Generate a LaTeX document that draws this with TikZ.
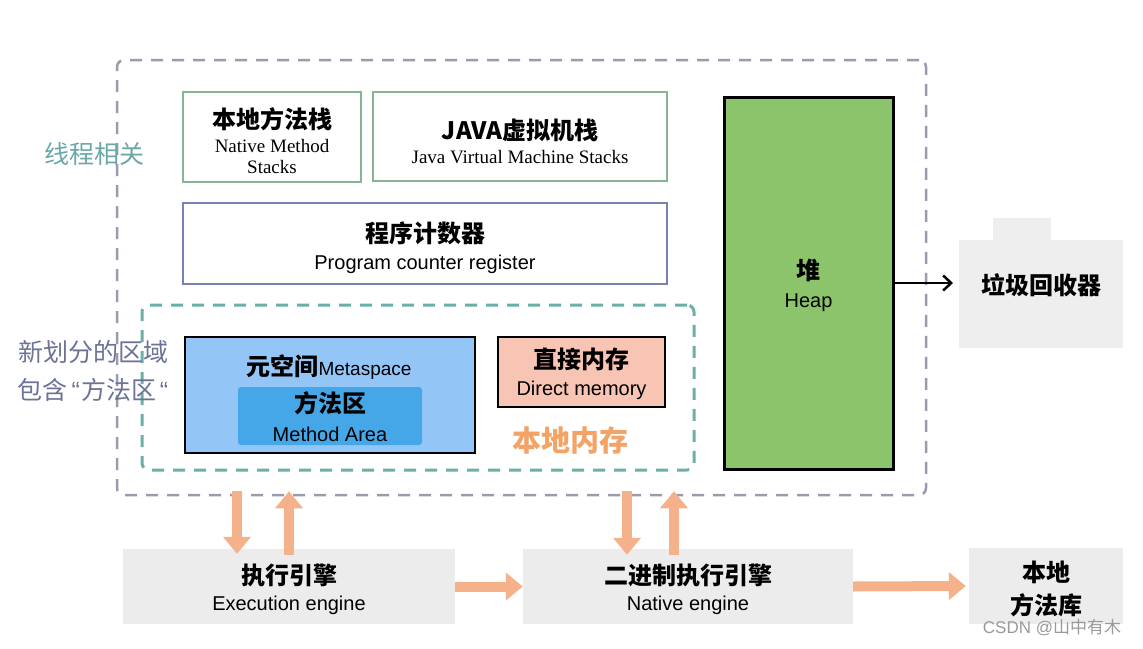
\documentclass[tikz,border=0pt]{standalone}
\usepackage{fontspec}
\setmainfont{Liberation Serif}
\setsansfont{Liberation Sans}
\newfontfamily\cjk{Noto Sans CJK SC}
\newfontfamily\lsans{Liberation Sans}
\newfontfamily\lserif{Liberation Serif}
\usetikzlibrary{arrows.meta,calc}
\definecolor{outerc}{HTML}{9B9BB0}
\definecolor{tealc}{HTML}{6AB0A8}
\definecolor{greenc}{HTML}{88B496}
\definecolor{pcc}{HTML}{7A7FB8}
\definecolor{metac}{HTML}{93C5F7}
\definecolor{areac}{HTML}{45A6E8}
\definecolor{directc}{HTML}{F8C4B4}
\definecolor{heapc}{HTML}{8BC46A}
\definecolor{orangec}{HTML}{F5B28A}
\definecolor{grayboxc}{HTML}{ECECEC}
\definecolor{lbl1c}{HTML}{6AA8A8}
\definecolor{lbl2c}{HTML}{6B7397}
\definecolor{localc}{HTML}{F4A367}
\definecolor{wmc}{HTML}{9A9A9A}
\begin{document}
\begin{tikzpicture}[x=1pt,y=-1pt,
  box/.style={rectangle, inner sep=0pt, line width=2.5pt},
  graybox/.style={rectangle, inner sep=0pt, fill=grayboxc},
  zh/.style={font=\cjk\bfseries\fontsize{24}{28}\selectfont, inner sep=0pt},
  zhl/.style={font=\cjk\fontsize{25}{28}\selectfont, inner sep=0pt},
  en/.style={font=\lsans\fontsize{20}{24}\selectfont, inner sep=0pt},
  ser/.style={font=\lserif\fontsize{19}{22}\selectfont, inner sep=0pt},
  oarrow/.style={draw=orangec, line width=10pt, -{Triangle[width=27pt,length=17pt]}},
  dashbox/.style={rectangle, inner sep=0pt, rounded corners=7pt, dash pattern=on 12pt off 9pt}
]
\useasboundingbox (0,0) rectangle (1143,648);
\fill[white] (0,0) rectangle (1143,648);

% outer dashed region
\node[dashbox, draw=outerc, line width=2.5pt, minimum width=809pt, minimum height=435pt] (outer) at (521.5,277.5) {};
% teal dashed region
\node[dashbox, draw=tealc, line width=3pt, minimum width=552pt, minimum height=165pt] (teal) at (418,387.5) {};

% left labels
\node[zhl, text=lbl1c] (lblthread) at (94,154) {线程相关};
\node[zhl, text=lbl2c] (lblnew1) at (93,352) {新划分的区域};
\node[zhl, text=lbl2c] (lblnew2) at (93,390) {包含{\lsans\hspace{4pt}“\hspace{1pt}}方法区{\lsans\hspace{4pt}“}};

% native method stacks
\node[box, draw=greenc, minimum width=178pt, minimum height=90pt] (nms) at (272,137) {};
\node[zh] (nmsz) at (272,119) {本地方法栈};
\node[ser] (nmse1) at (272,146) {Native Method};
\node[ser] (nmse2) at (272,167) {Stacks};

% JVM stacks
\node[box, draw=greenc, minimum width=294pt, minimum height=89pt] (jvms) at (520,136.5) {};
\node[zh] (jvmsz) at (520,130) {JAVA虚拟机栈};
\node[ser] (jvmse) at (520,157) {Java Virtual Machine Stacks};

% program counter
\node[box, draw=pcc, minimum width=484pt, minimum height=81pt] (pc) at (425,243.5) {};
\node[zh] (pcz) at (425,233) {程序计数器};
\node[en] (pce) at (425,264) {Program counter register};

% metaspace
\node[box, draw=black, fill=metac, minimum width=290pt, minimum height=116pt] (meta) at (330,395) {};
\node[inner sep=0pt] (metat) at (329,367) {{\cjk\bfseries\fontsize{24}{28}\selectfont 元空间}{\lsans\fontsize{19}{22}\selectfont Metaspace}};
\node[rectangle, rounded corners=3pt, fill=areac, inner sep=0pt, minimum width=184pt, minimum height=58pt] (area) at (330,416) {};
\node[zh] (areaz) at (330,403) {方法区};
\node[en] (areae) at (330,434) {Method Area};

% direct memory
\node[box, draw=black, fill=directc, minimum width=167pt, minimum height=70pt] (direct) at (581.5,372) {};
\node[zh] (directz) at (581.5,359) {直接内存};
\node[en] (directe) at (581.5,390) {Direct memory};
\node[font=\cjk\bfseries\fontsize{29}{32}\selectfont, text=localc, inner sep=0pt] (local) at (570,440) {本地内存};

% heap
\node[box, line width=3pt, draw=black, fill=heapc, minimum width=169pt, minimum height=372pt] (heap) at (808.5,283) {};
\node[zh] (heapz) at (808.5,270) {堆};
\node[en] (heape) at (808.5,303) {Heap};

% garbage collector
\node[graybox, fill=grayboxc!90!white, minimum width=164pt, minimum height=108pt] (gc) at (1041,294) {};
\fill[grayboxc!90!white] ($(gc.north west)+(34,1)$) rectangle ($(gc.north west)+(92,-22)$);
\node[zh] (gct) at (1041,285) {垃圾回收器};
\coordinate (gcin) at (953,283);
\draw[black, line width=2.5pt, -{Straight Barb[length=8pt,width=15pt,line width=2.5pt]}] (heap.east) -- (gcin);

% bottom engines
\node[graybox, minimum width=332pt, minimum height=75pt] (exec) at (289,586.5) {};
\node[zh] (execz) at (289,575) {执行引擎};
\node[en] (exece) at (289,605) {Execution engine};

\node[graybox, minimum width=330pt, minimum height=75pt] (native) at (688,586.5) {};
\node[zh] (nativez) at (688,575) {二进制执行引擎};
\node[en] (nativee) at (688,605) {Native engine};

\node[graybox, minimum width=154pt, minimum height=76pt] (lib) at (1046,586) {};
\node[zh] (libz1) at (1046,572) {本地};
\node[zh] (libz2) at (1046,605) {方法库};

% orange arrows
\coordinate (xa) at (237,0);
\coordinate (xb) at (289,0);
\coordinate (xc) at (627,0);
\coordinate (xd) at (674,0);
\draw[oarrow] ($(xa |- outer.south)+(0,-5)$) -- ($(xa |- exec.north)+(0,5)$);
\draw[oarrow] ($(xb |- exec.north)+(0,6)$) -- ($(xb |- outer.south)+(0,-5)$);
\draw[oarrow] ($(xc |- outer.south)+(0,-5)$) -- ($(xc |- native.north)+(0,6)$);
\draw[oarrow] ($(xd |- native.north)+(0,6)$) -- ($(xd |- outer.south)+(0,-5)$);
\draw[oarrow] (exec.east) -- (native.west);
\draw[oarrow] (native.east) -- ($(lib.west)+(-3,0)$);

% watermark
\node[font=\lsans\fontsize{17}{20}\selectfont, text=wmc, inner sep=0pt] (wm) at (1052,628) {CSDN @{\cjk 山中有木}};
\end{tikzpicture}
\end{document}
